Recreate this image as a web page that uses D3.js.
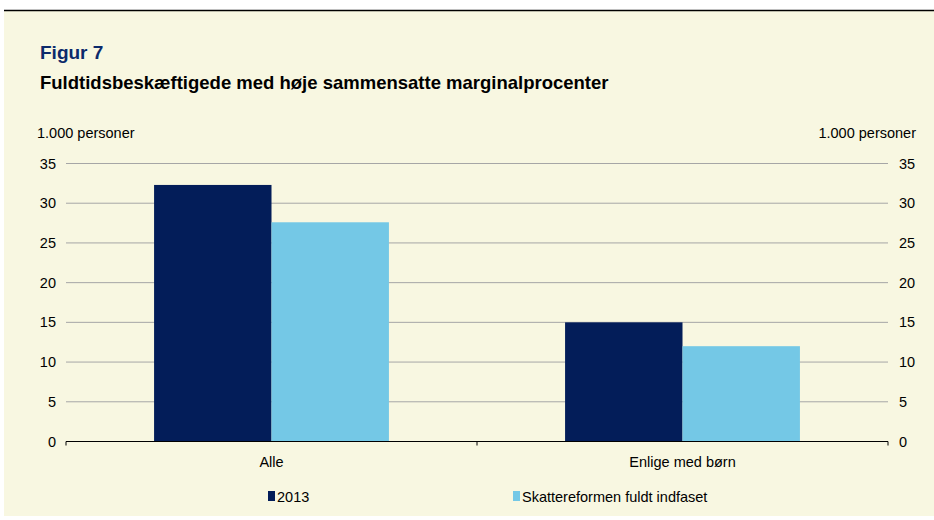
<!DOCTYPE html>
<html>
<head>
  <meta charset="utf-8" />
  <script src="https://d3js.org/d3.v7.min.js"></script>
  <style>
    body{margin:0;background:#fff;}
    svg text{font-family:"Liberation Sans",Arial,sans-serif;}
  </style>
</head>
<body>
<script>
  // data (1.000 personer)
  var categories = ["Alle", "Enlige med børn"];
  var seriesNames = ["2013", "Skattereformen fuldt indfaset"];
  var values2013 = [32.3, 15.0];
  var valuesReform = [27.6, 12.0];
  var yTicks = [0, 5, 10, 15, 20, 25, 30, 35];
  var colors = ["#031D59", "#74C8E6"];

  var W = 934, H = 520;
  var pLeft = 66, pRight = 888, pTop = 163.5, pBottom = 441.5;
  var fs = 14.5;

  var svg = d3.select('body').append('svg')
    .attr('width', W).attr('height', H);

  // cream panel + rule on top
  svg.append('rect').attr('x', 4).attr('y', 10).attr('width', W - 4).attr('height', 506)
    .attr('fill', '#F8F7E1');
  svg.append('line').attr('x1', 4).attr('x2', W).attr('y1', 10.5).attr('y2', 10.5)
    .attr('stroke', '#000').attr('stroke-width', 1.5);

  svg.append('text').attr('x', 40).attr('y', 59).text('Figur 7')
    .attr('font-size', 19).attr('font-weight', 'bold').attr('fill', '#0C2A6B');
  svg.append('text').attr('x', 40).attr('y', 89).text('Fuldtidsbeskæftigede med høje sammensatte marginalprocenter')
    .attr('font-size', 18.5).attr('font-weight', 'bold').attr('fill', '#000');

  svg.append('text').attr('x', 37).attr('y', 138).text('1.000 personer')
    .attr('font-size', fs).attr('fill', '#000');
  svg.append('text').attr('x', 916).attr('y', 138).attr('text-anchor', 'end').text('1.000 personer')
    .attr('font-size', fs).attr('fill', '#000');

  var y = d3.scaleLinear().domain([0, 35]).range([pBottom, pTop]);
  var x0 = d3.scaleBand().domain(categories).range([pLeft, pRight]);
  var x1 = d3.scaleBand().domain(seriesNames).range([0, x0.bandwidth()]).paddingOuter(0.75);

  // gridlines
  svg.append('g').selectAll('line').data(yTicks.filter(function(d){return d > 0;})).enter().append('line')
    .attr('x1', pLeft).attr('x2', pRight)
    .attr('y1', function(d){return y(d);}).attr('y2', function(d){return y(d);})
    .attr('stroke', '#A6A6A6').attr('stroke-width', 1);

  // left and right tick labels
  var axL = svg.append('g').attr('transform', 'translate(' + (pLeft - 10) + ',0)')
    .call(d3.axisLeft(y).tickValues(yTicks).tickSize(0).tickPadding(0));
  var axR = svg.append('g').attr('transform', 'translate(' + (pRight + 11) + ',0)')
    .call(d3.axisRight(y).tickValues(yTicks).tickSize(0).tickPadding(0));
  [axL, axR].forEach(function(g){
    g.select('.domain').remove();
    g.selectAll('text').attr('font-size', fs).attr('fill', '#000')
      .style('font-family', '"Liberation Sans",Arial,sans-serif');
  });

  // bars
  var rows = categories.map(function(c, i){
    return {cat: c, vals: [values2013[i], valuesReform[i]]};
  });
  var grp = svg.append('g').selectAll('g').data(rows).enter().append('g')
    .attr('transform', function(d){return 'translate(' + x0(d.cat) + ',0)';});
  grp.selectAll('rect').data(function(d){
      return d.vals.map(function(v, j){return {s: seriesNames[j], v: v, j: j};});
    }).enter().append('rect')
    .attr('x', function(d){return x1(d.s);})
    .attr('width', x1.bandwidth())
    .attr('y', function(d){return y(d.v);})
    .attr('height', function(d){return pBottom - y(d.v);})
    .attr('fill', function(d){return colors[d.j];});

  // x axis
  var axX = svg.append('g').attr('transform', 'translate(0,' + pBottom + ')')
    .call(d3.axisBottom(x0).tickSize(0).tickPadding(15));
  axX.select('.domain').attr('stroke', '#000').attr('stroke-width', 1.2)
    .attr('d', 'M' + pLeft + ',0H' + pRight);
  axX.selectAll('text').attr('font-size', fs).attr('fill', '#000')
    .style('font-family', '"Liberation Sans",Arial,sans-serif');
  // category boundary ticks
  svg.append('g').selectAll('line').data([pLeft, x0(categories[1]), pRight]).enter().append('line')
    .attr('x1', function(d){return d;}).attr('x2', function(d){return d;})
    .attr('y1', pBottom).attr('y2', pBottom + 4)
    .attr('stroke', '#000').attr('stroke-width', 1);

  // legend
  var legX = [268, 513];
  var leg = svg.append('g').selectAll('g').data(seriesNames).enter().append('g')
    .attr('transform', function(d, i){return 'translate(' + legX[i] + ',491)';});
  leg.append('rect').attr('width', 7).attr('height', 10).attr('y', 0)
    .attr('fill', function(d, i){return colors[i];});
  leg.append('text').attr('x', 9).attr('y', 10.5).text(function(d){return d;})
    .attr('font-size', fs).attr('fill', '#000');
</script>
</body>
</html>
